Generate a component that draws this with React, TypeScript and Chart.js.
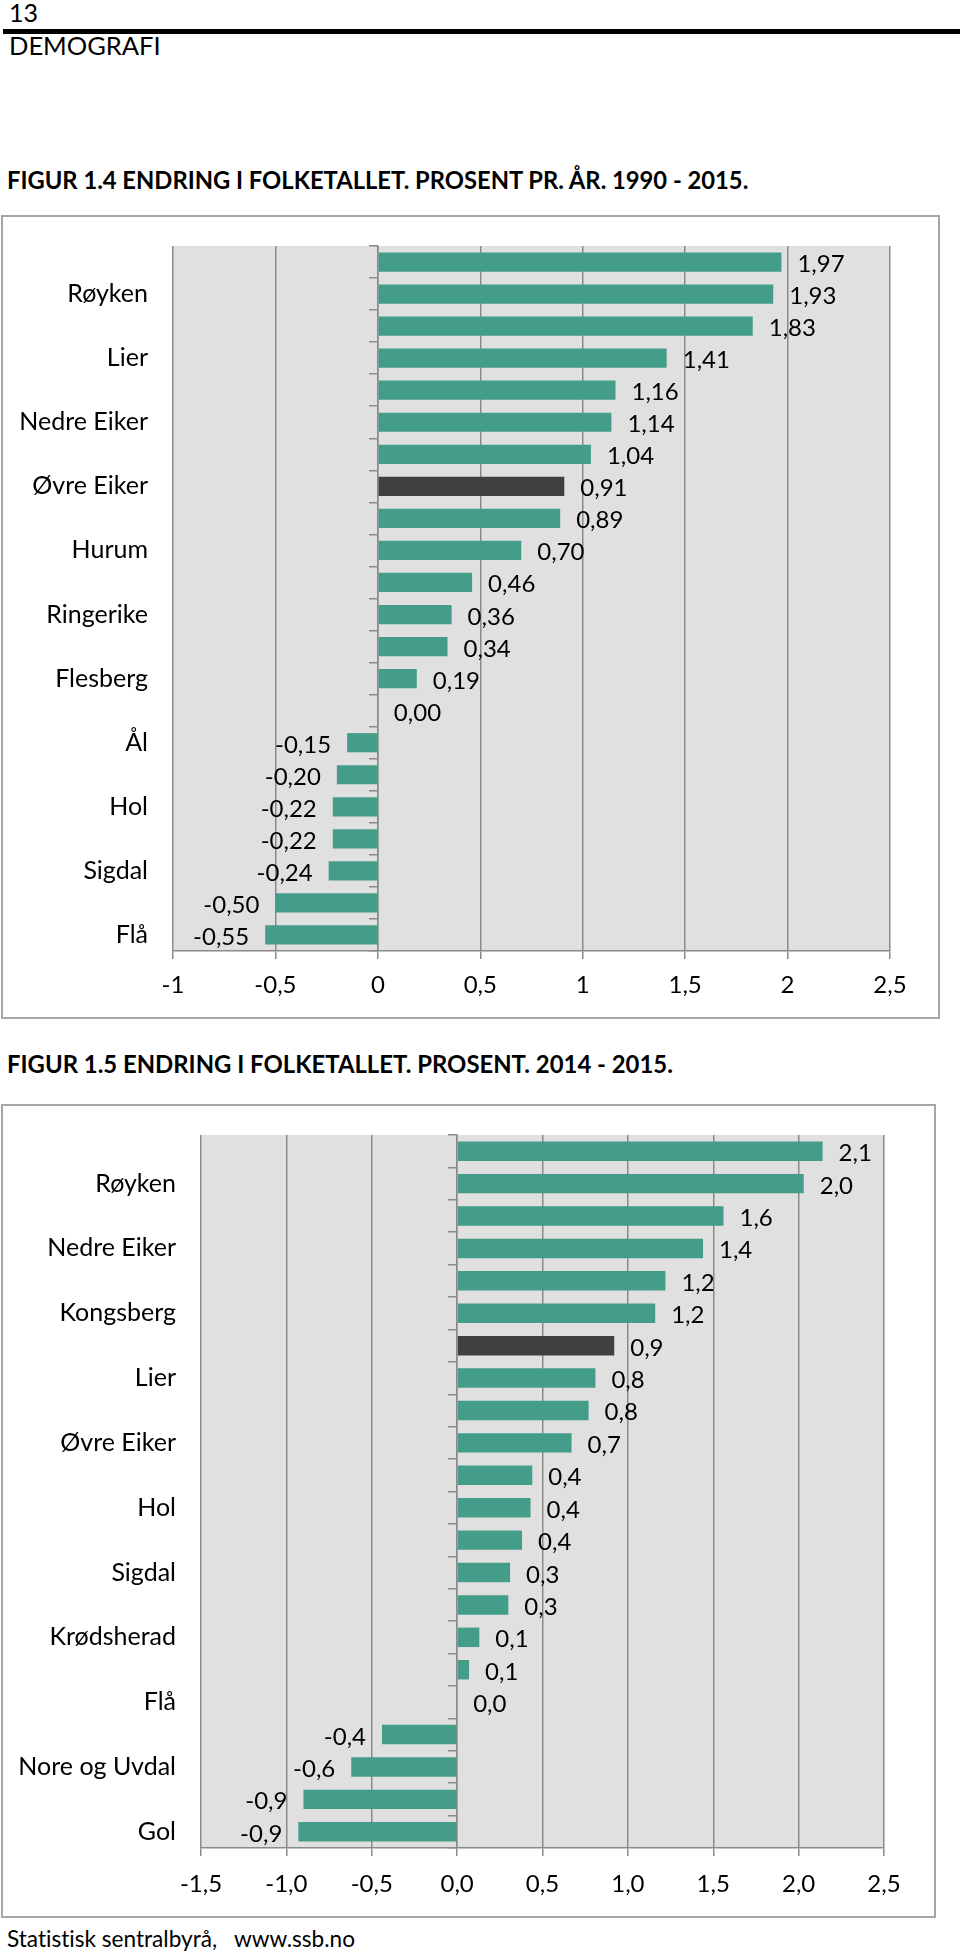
import React, { useEffect, useRef } from "react";
import { Chart, registerables } from "chart.js";

Chart.register(...registerables);

// ---------- data ----------
const fig14Categories = ["", "Røyken", "", "Lier", "", "Nedre Eiker", "", "Øvre Eiker", "", "Hurum", "", "Ringerike", "", "Flesberg", "", "Ål", "", "Hol", "", "Sigdal", "", "Flå"];
const fig14Values = [1.97, 1.93, 1.83, 1.41, 1.16, 1.14, 1.04, 0.91, 0.89, 0.7, 0.46, 0.36, 0.34, 0.19, 0.0, -0.15, -0.2, -0.22, -0.22, -0.24, -0.5, -0.55];
const fig14Highlight = 7;
const fig14TickLabels = ["-1", "-0,5", "0", "0,5", "1", "1,5", "2", "2,5"];

const fig15Categories = ["", "Røyken", "", "Nedre Eiker", "", "Kongsberg", "", "Lier", "", "Øvre Eiker", "", "Hol", "", "Sigdal", "", "Krødsherad", "", "Flå", "", "Nore og Uvdal", "", "Gol"];
const fig15Values = [2.14, 2.03, 1.56, 1.44, 1.22, 1.16, 0.92, 0.81, 0.77, 0.67, 0.44, 0.43, 0.38, 0.31, 0.3, 0.13, 0.07, 0.0, -0.44, -0.62, -0.9, -0.93];
const fig15Highlight = 6;
const fig15TickLabels = ["-1,5", "-1,0", "-0,5", "0,0", "0,5", "1,0", "1,5", "2,0", "2,5"];

// ---------- styles ----------
const FONT = "Lato";
const TEAL = "#449d88";
const DARK = "#404040";
const PLOT_BG = "#e0e0e0";
const GRID = "#8a8a8a";

type HBarProps = {
  w: number;
  h: number;
  categories: string[];
  values: number[];
  highlight: number;
  min: number;
  max: number;
  tickLabels: string[];
  decimals: number;
  yWidth: number;
  padRight: number;
  padTop: number;
  xHeight: number;
  yPad: number;
  xPad: number;
};

function HBar(p: HBarProps) {
  const ref = useRef<HTMLCanvasElement>(null);
  useEffect(() => {
    const colors = p.values.map((_, i) => (i === p.highlight ? DARK : TEAL));
    const fmt = (v: number) => v.toFixed(p.decimals).replace(".", ",");
    const bgPlugin = {
      id: "plotBg",
      beforeDraw(chart: any) {
        const { ctx, chartArea: a } = chart;
        ctx.save();
        ctx.fillStyle = PLOT_BG;
        ctx.fillRect(a.left, a.top, a.right - a.left, a.bottom - a.top);
        ctx.restore();
      },
    };
    const labelPlugin = {
      id: "valueLabels",
      afterDatasetsDraw(chart: any) {
        const ctx = chart.ctx;
        const meta = chart.getDatasetMeta(0);
        ctx.save();
        ctx.font = `24px ${FONT}`;
        ctx.fillStyle = "#000";
        ctx.textBaseline = "alphabetic";
        meta.data.forEach((el: any, i: number) => {
          const v = p.values[i];
          const neg = v < 0;
          ctx.textAlign = neg ? "right" : "left";
          ctx.fillText(fmt(v), neg ? el.x - 16 : el.x + 16, el.y + 10);
        });
        ctx.restore();
      },
    };
    const chart = new Chart(ref.current as HTMLCanvasElement, {
      type: "bar",
      data: {
        labels: p.categories,
        datasets: [
          {
            data: p.values,
            backgroundColor: colors,
            borderWidth: 0,
            barPercentage: 0.6,
            categoryPercentage: 1,
          },
        ],
      },
      options: {
        indexAxis: "y",
        responsive: false,
        animation: false,
        devicePixelRatio: 1,
        layout: { padding: { top: p.padTop, right: p.padRight, left: 0, bottom: 0 } },
        plugins: { legend: { display: false }, tooltip: { enabled: false } },
        scales: {
          x: {
            type: "linear",
            min: p.min,
            max: p.max,
            ticks: {
              stepSize: 0.5,
              callback: (_v: any, i: number) => p.tickLabels[i],
              font: { family: FONT, size: 24 },
              color: "#000",
              padding: p.xPad,
              autoSkip: false,
              maxRotation: 0,
            },
            grid: { color: GRID, lineWidth: 1.5, tickLength: 8, drawTicks: true },
            border: { color: GRID, width: 1.5 },
            afterFit: (s: any) => {
              s.height = p.xHeight;
              s.paddingLeft = 0;
              s.paddingRight = 0;
            },
          },
          y: {
            type: "category",
            position: "left",
            offset: true,
            grid: { display: false, drawTicks: false },
            border: { display: false },
            ticks: { autoSkip: false, font: { family: FONT, size: 25 }, color: "#000", padding: p.yPad },
            afterFit: (s: any) => {
              s.width = p.yWidth;
              s.paddingTop = 0;
              s.paddingBottom = 0;
            },
          },
          y2: {
            type: "category",
            position: { x: 0 },
            offset: true,
            grid: { offset: true, drawOnChartArea: false, drawTicks: true, tickLength: 8, color: GRID, lineWidth: 1.5 },
            border: { display: true, color: GRID, width: 1.5 },
            ticks: { display: false },
            afterFit: (s: any) => {
              s.paddingTop = 0;
              s.paddingBottom = 0;
            },
          },
        },
      } as any,
      plugins: [bgPlugin, labelPlugin],
    });
    return () => chart.destroy();
  }, []);
  return <canvas ref={ref} width={p.w} height={p.h} style={{ display: "block", width: p.w, height: p.h }} />;
}

const txt = (size: number, capTop: number, left: number, bold = false, sx = 1): React.CSSProperties => ({
  position: "absolute",
  left,
  top: capTop - 0.17 * size,
  fontFamily: FONT,
  fontSize: size,
  lineHeight: 1,
  fontWeight: bold ? 700 : 400,
  whiteSpace: "pre",
  color: "#000",
  fontVariantLigatures: "none",
  transform: sx !== 1 ? `scaleX(${sx})` : undefined,
  transformOrigin: "left top",
});

export default function App() {
  return (
    <div style={{ position: "absolute", left: 0, top: 0, width: 960, height: 1953, background: "#fff", overflow: "hidden" }}>
      <div style={txt(25, 4, 9)}>13</div>
      <div style={{ position: "absolute", left: 3, top: 29, width: 957, height: 5, background: "#000" }} />
      <div style={txt(25.5, 37, 9)}>DEMOGRAFI</div>
      <div style={txt(25, 171, 7, true, 0.95)}>FIGUR 1.4 ENDRING I FOLKETALLET. PROSENT PR. ÅR. 1990 - 2015.</div>
      <div style={{ position: "absolute", left: 1, top: 215, width: 939, height: 804, border: "2px solid #a6a6a6", boxSizing: "border-box", background: "#fff" }}>
        <HBar
          w={935}
          h={800}
          categories={fig14Categories}
          values={fig14Values}
          highlight={fig14Highlight}
          min={-1}
          max={2.5}
          tickLabels={fig14TickLabels}
          decimals={2}
          yWidth={170}
          padRight={48}
          padTop={29}
          xHeight={66}
          yPad={25}
          xPad={12}
        />
      </div>
      <div style={txt(25, 1055, 7, true, 0.955)}>FIGUR 1.5 ENDRING I FOLKETALLET. PROSENT. 2014 - 2015.</div>
      <div style={{ position: "absolute", left: 1, top: 1104, width: 935, height: 814, border: "2px solid #a6a6a6", boxSizing: "border-box", background: "#fff" }}>
        <HBar
          w={931}
          h={810}
          categories={fig15Categories}
          values={fig15Values}
          highlight={fig15Highlight}
          min={-1.5}
          max={2.5}
          tickLabels={fig15TickLabels}
          decimals={1}
          yWidth={198}
          padRight={50}
          padTop={29}
          xHeight={68}
          yPad={25}
          xPad={14}
        />
      </div>
      <div style={txt(22.6, 1931.5, 7)}>Statistisk sentralbyrå,   www.ssb.no</div>
    </div>
  );
}
